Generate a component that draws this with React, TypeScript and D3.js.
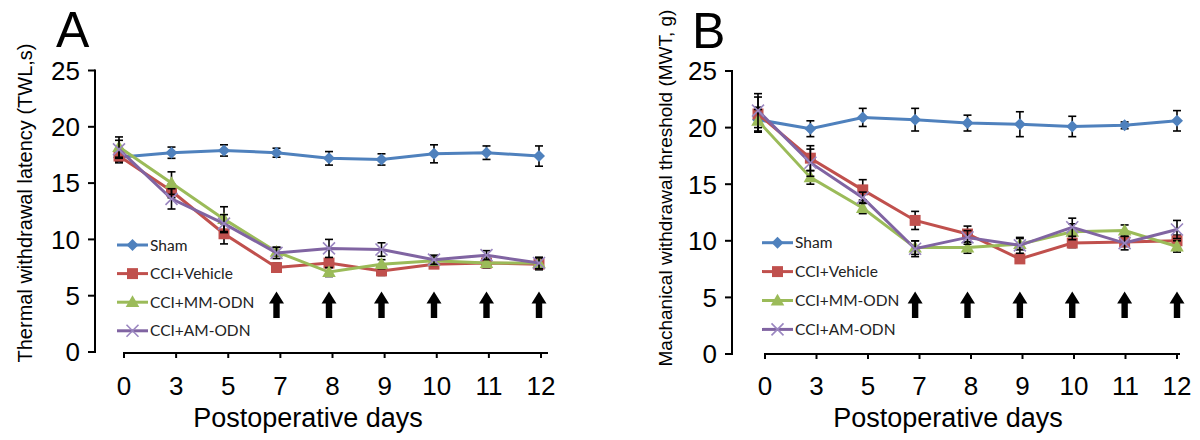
import React from 'react';
import * as d3 from 'd3';

const days = ['0', '3', '5', '7', '8', '9', '10', '11', '12'];
const arrowDays = ['7', '8', '9', '10', '11', '12'];
const seriesNames = ['Sham', 'CCI+Vehicle', 'CCI+MM-ODN', 'CCI+AM-ODN'];
const yTicks = [0, 5, 10, 15, 20, 25];

// Panel A: thermal withdrawal latency (s)
const shamA = [17.3, 17.7, 17.9, 17.7, 17.2, 17.1, 17.6, 17.7, 17.4];
const shamAErr = [0.5, 0.5, 0.5, 0.4, 0.6, 0.5, 0.8, 0.6, 0.9];
const vehA = [17.4, 14.3, 10.5, 7.5, 7.9, 7.2, 7.8, 7.9, 7.8];
const vehAErr = [0.5, 0.6, 0.9, 0.4, 0.4, 0.4, 0.3, 0.4, 0.5];
const mmA = [18.2, 15.0, 11.8, 8.9, 7.1, 7.8, 8.1, 7.9, 7.9];
const mmAErr = [0.9, 1.0, 1.1, 0.4, 0.4, 0.4, 0.4, 0.4, 0.5];
const amA = [18.0, 13.6, 11.4, 8.8, 9.2, 9.1, 8.2, 8.6, 7.9];
const amAErr = [0.8, 0.9, 0.8, 0.5, 0.8, 0.6, 0.4, 0.4, 0.5];

// Panel B: mechanical withdrawal threshold (g)
const shamB = [20.7, 19.9, 20.9, 20.7, 20.4, 20.3, 20.1, 20.2, 20.6];
const shamBErr = [1.1, 0.7, 0.8, 1.0, 0.7, 1.1, 0.9, 0.3, 0.9];
const vehB = [21.2, 17.3, 14.5, 11.8, 10.6, 8.4, 9.8, 9.9, 10.0];
const vehBErr = [1.5, 1.1, 0.9, 0.8, 0.7, 0.3, 0.4, 0.4, 0.5];
const mmB = [20.6, 15.6, 12.9, 9.4, 9.4, 9.7, 10.8, 10.9, 9.5];
const mmBErr = [1.0, 0.6, 0.5, 0.6, 0.5, 0.5, 0.7, 0.5, 0.5];
const amB = [21.5, 16.9, 13.8, 9.3, 10.3, 9.6, 11.2, 9.8, 11.0];
const amBErr = [1.5, 1.2, 0.5, 0.7, 0.6, 0.7, 0.8, 0.6, 0.8];

const colors = ['#4F81BD', '#C0504D', '#9BBB59', '#8064A2'];
const markers = ['diamond', 'square', 'triangle', 'x'];

const AXIS_FONT = '"Liberation Sans", Arial, sans-serif';
const LEGEND_FONT = 'Lato, "Open Sans", sans-serif';

function Marker({ kind, x, y, color }: { kind: string; x: number; y: number; color: string }) {
  if (kind === 'diamond') {
    const p = d3.symbol(d3.symbolSquare, 72)();
    return <path d={p || ''} transform={`translate(${x},${y}) rotate(45)`} fill={color} />;
  }
  if (kind === 'square') {
    const p = d3.symbol(d3.symbolSquare, 120)();
    return <path d={p || ''} transform={`translate(${x},${y})`} fill={color} />;
  }
  if (kind === 'triangle') {
    const p = d3.symbol(d3.symbolTriangle, 80)();
    return <path d={p || ''} transform={`translate(${x},${y + 1})`} fill={color} />;
  }
  const s = 6;
  return (
    <path
      d={`M${x - s},${y - s}L${x + s},${y + s}M${x - s},${y + s}L${x + s},${y - s}`}
      stroke="#9A86C0"
      strokeWidth={1.6}
      fill="none"
    />
  );
}

type PanelProps = {
  letter: string;
  letterX: number;
  letterY: number;
  yLabel: string;
  yLabelX: number;
  yLabelY: number;
  yLabelSize: number;
  yAxisX: number;
  yRange: [number, number];
  dataRange: [number, number];
  axisRange: [number, number];
  xAxisY: number;
  xLineEnd: number;
  xTitleX: number;
  legendX: number;
  legendY: number;
  legendStep: number;
  values: number[][];
  errors: number[][];
};

function Panel(p: PanelProps) {
  const y = d3.scaleLinear().domain([0, 25]).range(p.yRange);
  const xData = d3.scalePoint<string>().domain(days).range(p.dataRange);
  const xAxis = d3.scalePoint<string>().domain(days).range(p.axisRange);
  const line = d3
    .line<number>()
    .x((_, i) => xData(days[i]) as number)
    .y((v) => y(v));

  const arrowTop = 291.5;
  const arrowBottom = 318;

  return (
    <g>
      <text x={p.letterX} y={p.letterY} fontFamily={AXIS_FONT} fontSize={50}>
        {p.letter}
      </text>
      <text
        transform={`translate(${p.yLabelX},${p.yLabelY}) rotate(-90)`}
        textAnchor="middle"
        fontFamily={AXIS_FONT}
        fontSize={p.yLabelSize}
      >
        {p.yLabel}
      </text>
      {/* y axis */}
      <line x1={p.yAxisX} x2={p.yAxisX} y1={y(25) - 1} y2={y(0) + 1} stroke="#000" strokeWidth={2} />
      {yTicks.map((t) => (
        <g key={t}>
          <line x1={p.yAxisX - 7} x2={p.yAxisX} y1={y(t)} y2={y(t)} stroke="#000" strokeWidth={2} />
          <text
            x={p.yAxisX - 15}
            y={y(t)}
            dy="0.36em"
            textAnchor="end"
            fontFamily={AXIS_FONT}
            fontSize={26}
          >
            {t}
          </text>
        </g>
      ))}
      {/* x axis */}
      <line
        x1={(xAxis(days[0]) as number) - 1}
        x2={p.xLineEnd}
        y1={p.xAxisY}
        y2={p.xAxisY}
        stroke="#000"
        strokeWidth={2}
      />
      {days.map((d) => (
        <g key={d}>
          <line
            x1={xAxis(d)}
            x2={xAxis(d)}
            y1={p.xAxisY}
            y2={p.xAxisY + 5}
            stroke="#000"
            strokeWidth={2}
          />
          <text x={xAxis(d)} y={395} textAnchor="middle" fontFamily={AXIS_FONT} fontSize={26}>
            {d}
          </text>
        </g>
      ))}
      <text x={p.xTitleX} y={427} textAnchor="middle" fontFamily={AXIS_FONT} fontSize={27}>
        Postoperative days
      </text>
      {/* arrows */}
      {arrowDays.map((d) => {
        const cx = xData(d) as number;
        const hw = 7.5;
        const sw = 3.2;
        const hy = arrowTop + 12;
        return (
          <path
            key={d}
            d={`M${cx},${arrowTop}L${cx + hw},${hy}L${cx + sw},${hy}L${cx + sw},${arrowBottom}L${cx - sw},${arrowBottom}L${cx - sw},${hy}L${cx - hw},${hy}Z`}
            fill="#000"
          />
        );
      })}
      {/* series */}
      {p.values.map((vals, si) => (
        <g key={si}>
          <path d={line(vals) || ''} fill="none" stroke={colors[si]} strokeWidth={3} />
          {vals.map((v, i) => {
            const cx = xData(days[i]) as number;
            const e = p.errors[si][i];
            return (
              <g key={i} stroke="#000" strokeWidth={1.6}>
                <line x1={cx} x2={cx} y1={y(v + e)} y2={y(v - e)} />
                <line x1={cx - 4} x2={cx + 4} y1={y(v + e)} y2={y(v + e)} />
                <line x1={cx - 4} x2={cx + 4} y1={y(v - e)} y2={y(v - e)} />
              </g>
            );
          })}
          {vals.map((v, i) => (
            <Marker key={i} kind={markers[si]} x={xData(days[i]) as number} y={y(v)} color={colors[si]} />
          ))}
        </g>
      ))}
      {/* legend */}
      {seriesNames.map((name, si) => {
        const ly = p.legendY + si * p.legendStep;
        return (
          <g key={name}>
            <line x1={p.legendX} x2={p.legendX + 31} y1={ly} y2={ly} stroke={colors[si]} strokeWidth={3} />
            <Marker kind={markers[si]} x={p.legendX + 15.5} y={ly} color={colors[si]} />
            <text x={p.legendX + 33} y={ly} dy="0.36em" fontFamily={LEGEND_FONT} fontSize={15.5} fill="#222">
              {name}
            </text>
          </g>
        );
      })}
    </g>
  );
}

export default function App() {
  return (
    <svg
      width={1200}
      height={440}
      viewBox="0 0 1200 440"
      style={{ position: 'absolute', left: 0, top: 0, background: '#fff' }}
    >
      <rect width={1200} height={440} fill="#fff" />
      <Panel
        letter="A"
        letterX={56}
        letterY={47}
        yLabel="Thermal withdrawal latency (TWL,s)"
        yLabelX={32}
        yLabelY={203}
        yLabelSize={20}
        yAxisX={95}
        yRange={[352, 70.5]}
        dataRange={[119, 539]}
        axisRange={[124, 541]}
        xAxisY={353}
        xLineEnd={548}
        xTitleX={308}
        legendX={117}
        legendY={245}
        legendStep={28.6}
        values={[shamA, vehA, mmA, amA]}
        errors={[shamAErr, vehAErr, mmAErr, amAErr]}
      />
      <Panel
        letter="B"
        letterX={692}
        letterY={48}
        yLabel="Machanical withdrawal threshold (MWT, g)"
        yLabelX={672}
        yLabelY={188}
        yLabelSize={19}
        yAxisX={732}
        yRange={[354, 71]}
        dataRange={[758, 1177]}
        axisRange={[765, 1177]}
        xAxisY={354}
        xLineEnd={1180}
        xTitleX={948}
        legendX={762}
        legendY={242.7}
        legendStep={28.9}
        values={[shamB, vehB, mmB, amB]}
        errors={[shamBErr, vehBErr, mmBErr, amBErr]}
      />
    </svg>
  );
}
